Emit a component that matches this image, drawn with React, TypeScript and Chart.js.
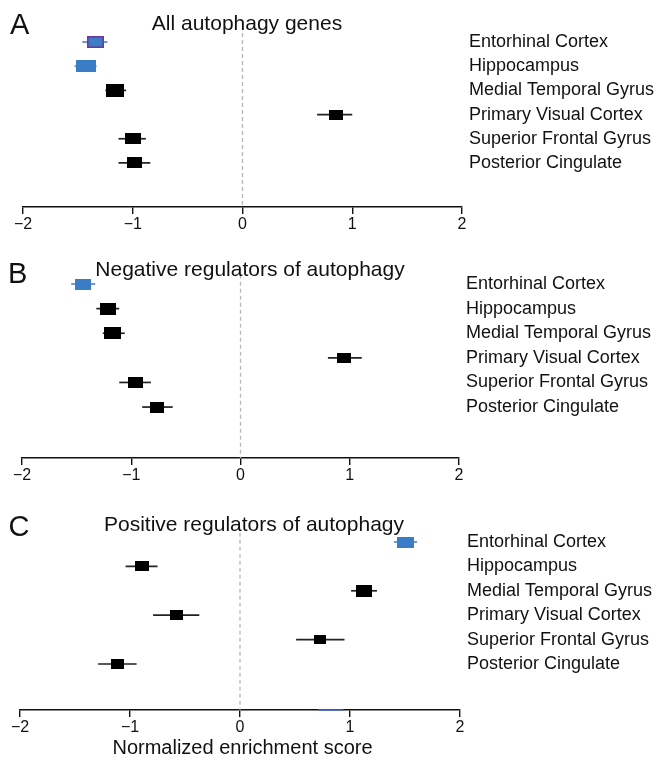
import React, { useEffect, useRef } from "react";
import { Chart, registerables } from "chart.js";

Chart.register(...registerables);

// ---------- data ----------
const regions = [
  "Entorhinal Cortex",
  "Hippocampus",
  "Medial Temporal Gyrus",
  "Primary Visual Cortex",
  "Superior Frontal Gyrus",
  "Posterior Cingulate",
];
const xTickValues = [-2, -1, 0, 1, 2];
const xAxisTitle = "Normalized enrichment score";

// Panel A: All autophagy genes
const allTitle = "All autophagy genes";
const allNes = [-1.34, -1.43, -1.16, 0.85, -1.0, -0.98];
const allLow = [-1.46, -1.53, -1.25, 0.68, -1.13, -1.13];
const allHigh = [-1.23, -1.33, -1.06, 1.0, -0.88, -0.84];

// Panel B: Negative regulators of autophagy
const negTitle = "Negative regulators of autophagy";
const negNes = [-1.44, -1.21, -1.17, 0.95, -0.965, -0.76];
const negLow = [-1.55, -1.32, -1.26, 0.8, -1.11, -0.9];
const negHigh = [-1.33, -1.11, -1.06, 1.11, -0.82, -0.62];

// Panel C: Positive regulators of autophagy
const posTitle = "Positive regulators of autophagy";
const posNes = [1.505, -0.895, 1.13, -0.58, 0.73, -1.11];
const posLow = [1.4, -1.04, 1.01, -0.79, 0.51, -1.29];
const posHigh = [1.61, -0.75, 1.245, -0.37, 0.95, -0.94];
const posAxisMark = [0.71, 0.94];

// ---------- styles ----------
const FONT = "'Liberation Sans', Arial, Helvetica, sans-serif";
const BLUE = "#3b7cc6";
const BLUE_WHISKER = "#5b86cc";
const PURPLE = "#6a3a9e";
const BLACK = "#000000";
const WHISKER = "#222222";

type BoxStyle = { w: number; h: number; fill: string; stroke?: string; whisker: string };

const blackBox = (w: number, h: number): BoxStyle => ({ w, h, fill: BLACK, whisker: WHISKER });
const blueBox = (w: number, h: number, stroke?: string): BoxStyle => ({ w, h, fill: BLUE, stroke, whisker: BLUE_WHISKER });

const allBoxes: BoxStyle[] = [blueBox(17, 12, PURPLE), blueBox(20, 12), blackBox(18, 13), blackBox(14, 10), blackBox(16, 11), blackBox(15, 11)];
const negBoxes: BoxStyle[] = [blueBox(16, 11), blackBox(16, 12), blackBox(17, 12), blackBox(14, 10), blackBox(15, 11), blackBox(14, 11)];
const posBoxes: BoxStyle[] = [blueBox(17, 11), blackBox(14, 10), blackBox(16, 12), blackBox(13, 10), blackBox(12, 9), blackBox(13, 10)];

function makeBoxCanvas(b: BoxStyle): HTMLCanvasElement {
  const c = document.createElement("canvas");
  c.width = b.w;
  c.height = b.h;
  const ctx = c.getContext("2d")!;
  ctx.fillStyle = b.fill;
  ctx.fillRect(0, 0, b.w, b.h);
  if (b.stroke) {
    ctx.strokeStyle = b.stroke;
    ctx.lineWidth = 1.6;
    ctx.strokeRect(0.8, 0.8, b.w - 1.6, b.h - 1.6);
  }
  return c;
}

const zeroLinePlugin = {
  id: "zeroLine",
  beforeDatasetsDraw(chart: any) {
    const { ctx, chartArea, scales } = chart;
    const x = scales.x.getPixelForValue(0);
    ctx.save();
    ctx.strokeStyle = "#b8b8b8";
    ctx.lineWidth = 1.3;
    ctx.setLineDash([4, 3]);
    ctx.beginPath();
    ctx.moveTo(x, chartArea.top + 3);
    ctx.lineTo(x, chartArea.bottom);
    ctx.stroke();
    ctx.restore();
  },
};

type PanelProps = {
  top: number;
  height: number;
  padLeft: number;
  padTop: number;
  axisRight: number;
  xHeight: number;
  yMax: number;
  nes: number[];
  low: number[];
  high: number[];
  boxes: BoxStyle[];
  axisMark?: number[];
};

function Panel(p: PanelProps) {
  const ref = useRef<HTMLCanvasElement>(null);
  useEffect(() => {
    if (!ref.current) return;
    const datasets: any[] = [
      {
        type: "scatter",
        label: "NES",
        data: regions.map((_, i) => ({ x: p.nes[i], y: i })),
        pointStyle: p.boxes.map(makeBoxCanvas),
        pointRadius: 5,
        clip: false,
      },
      ...regions.map((_, i) => ({
        type: "scatter",
        label: "CI " + regions[i],
        data: [
          { x: p.low[i], y: i },
          { x: p.high[i], y: i },
        ],
        showLine: true,
        borderColor: p.boxes[i].whisker,
        borderWidth: 1.7,
        pointRadius: 0,
        clip: false,
      })),
    ];
    if (p.axisMark) {
      datasets.push({
        type: "scatter",
        label: "mark",
        data: p.axisMark.map((v) => ({ x: v, y: p.yMax })),
        showLine: true,
        borderColor: "#4a68d2",
        borderWidth: 1.6,
        pointRadius: 0,
        clip: false,
      });
    }
    const chart = new Chart(ref.current, {
      type: "scatter",
      data: { datasets },
      plugins: [zeroLinePlugin],
      options: {
        animation: false,
        responsive: false,
        devicePixelRatio: 1,
        events: [],
        layout: { padding: { left: p.padLeft, top: p.padTop, right: 0, bottom: 0 } },
        plugins: { legend: { display: false }, tooltip: { enabled: false }, title: { display: false } },
        scales: {
          x: {
            type: "linear",
            min: -2,
            max: 2,
            afterBuildTicks: (s: any) => {
              s.ticks = xTickValues.map((v) => ({ value: v }));
            },
            afterFit: (s: any) => {
              s.height = p.xHeight;
            },
            ticks: {
              callback: (v: any) => (Number(v) < 0 ? "\u2212" + Math.abs(Number(v)) : String(v)),
              font: { family: FONT, size: 16 },
              color: "#111",
              padding: 1,
              maxRotation: 0,
              autoSkip: false,
            },
            grid: { drawOnChartArea: false, drawTicks: true, tickLength: 7, color: "#111", lineWidth: 1.4 },
            border: { display: true, color: "#111", width: 1.4 },
          },
          y: {
            type: "linear",
            position: "right",
            reverse: true,
            min: -0.5,
            max: p.yMax,
            afterBuildTicks: (s: any) => {
              s.ticks = regions.map((_, i) => ({ value: i }));
            },
            afterFit: (s: any) => {
              s.width = 665 - p.axisRight;
            },
            ticks: {
              callback: (v: any) => regions[Number(v)],
              font: { family: FONT, size: 18 },
              color: "#111",
              padding: 7,
              autoSkip: false,
            },
            grid: { display: false, drawTicks: false },
            border: { display: false },
          },
        },
      },
    });
    return () => chart.destroy();
  }, []);
  return (
    <canvas
      ref={ref}
      width={665}
      height={p.height}
      style={{ position: "absolute", left: 0, top: p.top, width: 665, height: p.height }}
    />
  );
}

function Label(props: { text: string; x: number; top: number; size: number; center?: boolean }) {
  return (
    <div
      style={{
        position: "absolute",
        left: props.x,
        top: props.top,
        fontFamily: FONT,
        fontSize: props.size,
        lineHeight: props.size + "px",
        color: "#111",
        whiteSpace: "nowrap",
        transform: props.center ? "translateX(-50%)" : undefined,
      }}
    >
      {props.text}
    </div>
  );
}

export default function App() {
  return (
    <div style={{ position: "absolute", left: 0, top: 0, width: 665, height: 758, background: "#fff", overflow: "hidden" }}>
      <Panel top={0} height={245} padLeft={23} padTop={29.9} axisRight={462} xHeight={38} yMax={6.82}
        nes={allNes} low={allLow} high={allHigh} boxes={allBoxes} />
      <Panel top={245} height={245} padLeft={22} padTop={26.7} axisRight={459} xHeight={32} yMax={7.07}
        nes={negNes} low={negLow} high={negHigh} boxes={negBoxes} />
      <Panel top={490} height={268} padLeft={20} padTop={39.8} axisRight={460} xHeight={48} yMax={6.885}
        nes={posNes} low={posLow} high={posHigh} boxes={posBoxes} axisMark={posAxisMark} />
      <Label text="A" x={10} top={10} size={29} />
      <Label text="B" x={8} top={259} size={29} />
      <Label text="C" x={8.5} top={512} size={29} />
      <Label text={allTitle} x={247} top={11.5} size={21} center />
      <Label text={negTitle} x={250} top={258} size={21} center />
      <Label text={posTitle} x={254} top={513} size={21} center />
      <Label text={xAxisTitle} x={242.5} top={737} size={20} center />
    </div>
  );
}
